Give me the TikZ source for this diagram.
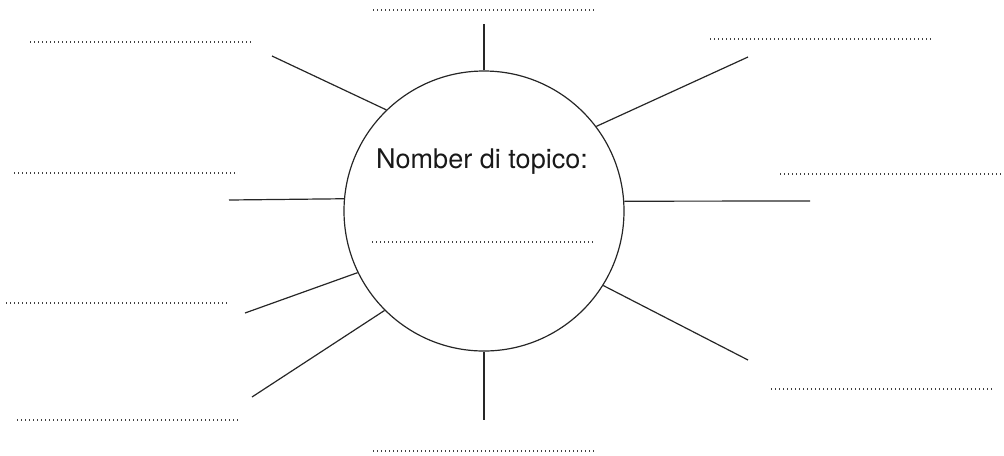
\documentclass[tikz,border=0pt]{standalone}
\usepackage{fontspec}
\setmainfont{TeX Gyre Heros}
\usepackage{tikz}
\usetikzlibrary{positioning}

\begin{document}
\begin{tikzpicture}[x=0.75pt, y=-0.75pt,
            topicbox/.style={draw=black!85, circle, line width=0.9pt, minimum size=210pt, inner sep=0pt},
            spoke/.style={draw=black!85, line width=0.9pt},
            blank/.style={draw=black!75, line width=0.9pt, dash pattern=on 0.75pt off 2.25pt}]
            \useasboundingbox (0,0) rectangle (1004,455);

            \node[topicbox] (topic) at (484,211) {};
            \node[anchor=base, text=black!90, font=\fontsize{20.3}{24}\selectfont] (title) at (482,168) {Nomber di topico:};

            % ===== free ends of the spokes =====
            \coordinate (top) at (484,24);
            \coordinate (ul) at (272,56);
            \coordinate (ur) at (748,57);
            \coordinate (left) at (229,200);
            \coordinate (right) at (810,201);
            \coordinate (ll) at (245,313);
            \coordinate (lll) at (252,397);
            \coordinate (lr) at (748,360);
            \coordinate (bottom) at (484,420);

            \foreach \a/\p in {90/top, 134/ul, 37.4/ur, 175.5/left, 4.1/right, 206.4/ll, 225.6/lll, 328.5/lr, 270/bottom}
                \draw[spoke] (topic.\a) -- (\p);

            % ===== dotted blanks =====
            \foreach \x/\y in {373/10, 30/42, 710/39, 14/173, 780/174, 6/303, 17/420, 771/389, 373/451, 372/242}
                \draw[blank] (\x,\y) -- ++(223,0);
        \end{tikzpicture}
\end{document}
